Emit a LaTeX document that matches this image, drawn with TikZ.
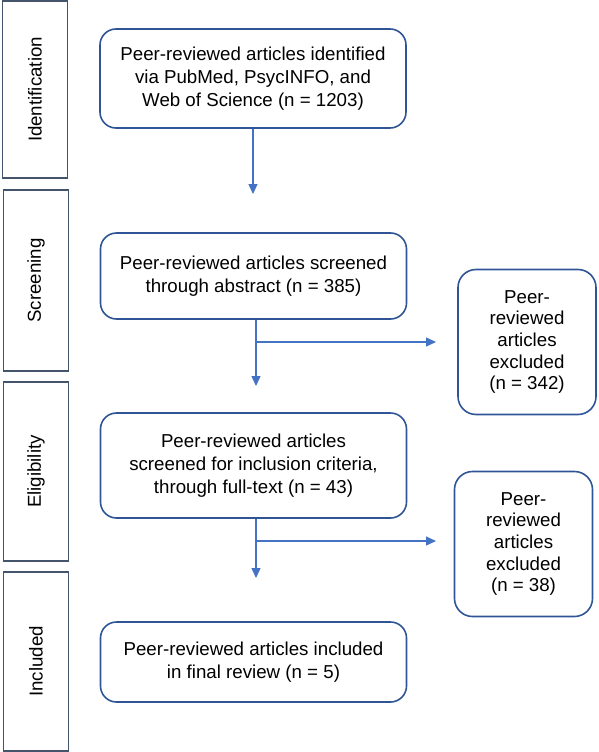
\documentclass[tikz,border=0pt]{standalone}
\usepackage{fontspec}
\setmainfont{Liberation Sans}
\usepackage{xcolor}
\usetikzlibrary{arrows.meta}

\definecolor{boxline}{HTML}{2F5597}
\definecolor{stageline}{HTML}{44546A}
\definecolor{arrowline}{HTML}{4472C4}

\tikzset{
  stagebox/.style={draw=stageline, line width=1.8pt, rectangle, minimum width=65pt, font=\fontsize{18.7}{22}\selectfont},
  flowbox/.style={draw=boxline, line width=1.6pt, rectangle, rounded corners=16pt, align=center, minimum width=306pt, font=\fontsize{18.7}{23.3}\selectfont},
  exbox/.style={draw=boxline, line width=1.6pt, rectangle, rounded corners=18pt, align=center, minimum width=138pt, minimum height=145pt, font=\fontsize{18.7}{21.7}\selectfont},
  flow/.style={draw=arrowline, line width=1.3pt, -{Triangle[width=9pt,length=10pt]}}
}

\begin{document}
\begin{tikzpicture}[x=1pt, y=1pt]
    \useasboundingbox (0,0) rectangle (598,-752);

    % Stages
    \node[stagebox, minimum height=177pt] (identification) at (35,-89.5) {\rotatebox{90}{Identification}};
    \node[stagebox, minimum height=181pt] (screening) at (36,-280.5) {\rotatebox{90}{Screening}};
    \node[stagebox, minimum height=179pt] (eligibility) at (36,-471.5) {\rotatebox{90}{Eligibility}};
    \node[stagebox, minimum height=179pt] (included) at (36,-661.5) {\rotatebox{90}{Included}};

    % Records
    \node[flowbox, minimum height=99pt] (identified) at (253,-78.5) {Peer-reviewed articles identified\\via PubMed, PsycINFO, and\\Web of Science (n = 1203)};
    \node[flowbox, minimum height=86pt] (abstracts) at (253.5,-276) {Peer-reviewed articles screened\\through abstract (n = 385)};
    \node[flowbox, minimum height=105pt] (fulltext) at (253.5,-465.5) {Peer-reviewed articles\\screened for inclusion criteria,\\through full-text (n = 43)};
    \node[flowbox, minimum height=80pt] (final) at (253.5,-662) {Peer-reviewed articles included\\in final review (n = 5)};
    \node[exbox] (excludedA) at (527,-342) {Peer-\\reviewed\\articles\\excluded\\(n = 342)};
    \node[exbox] (excludedB) at (523.5,-544) {Peer-\\reviewed\\articles\\excluded\\(n = 38)};

    % Connections
    \coordinate (tipA) at (253,-194);
    \coordinate (tipB) at (256,-386);
    \coordinate (tipC) at (256,-578);
    \coordinate (branchA) at (256,-342);
    \coordinate (branchB) at (256,-541);
    \coordinate (sideA) at (436,-342);
    \coordinate (sideB) at (436,-541);
    \draw[flow] (identified.south) -- (tipA);
    \draw[flow] (abstracts.south -| tipB) -- (tipB);
    \draw[flow] (fulltext.south -| tipC) -- (tipC);
    \draw[flow] (branchA) -- (sideA);
    \draw[flow] (branchB) -- (sideB);
\end{tikzpicture}
\end{document}
